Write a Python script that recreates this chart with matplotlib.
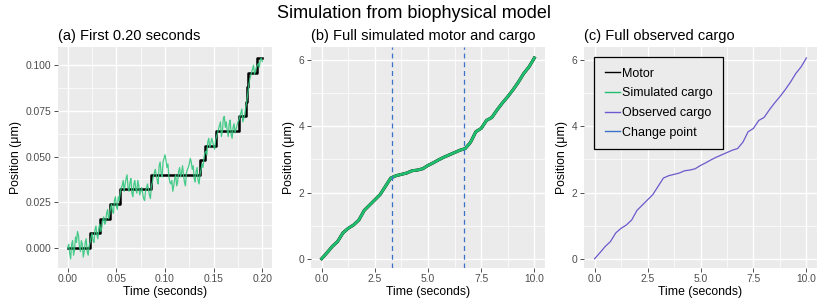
import matplotlib
matplotlib.use("Agg")
import matplotlib.pyplot as plt
import numpy as np
from matplotlib.ticker import FormatStrFormatter, MultipleLocator
from matplotlib.lines import Line2D

plt.rcParams['font.family'] = ['Liberation Sans', 'DejaVu Sans']

# panel (a): motor steps (time where each step starts, level after it)
motor_t = [0.0, 0.0226, 0.0336, 0.0431, 0.0534, 0.0853, 0.1363, 0.1407,
           0.1527, 0.1757, 0.1835, 0.1845, 0.1855, 0.1948, 0.2]
motor_y = [0.000, 0.008, 0.016, 0.024, 0.032, 0.040, 0.048, 0.056,
           0.064, 0.072, 0.080, 0.088, 0.096, 0.104, 0.104]

# panel (a): simulated cargo, every 0.001 s
cargo_a_t = [i * 0.001 for i in range(201)]
cargo_a_y = [
    0.000, 0.002, -0.003, -0.006, 0.002, 0.004, -0.004, -0.001, 0.006, 0.003,
    0.009, 0.007, 0.001, -0.002, 0.004, 0.002, -0.005, -0.002, 0.003, 0.005,
    -0.002, -0.004, 0.001, 0.003, 0.006, 0.008, 0.004, 0.003, 0.010, 0.012,
    0.007, 0.005, 0.011, 0.013, 0.009, 0.011, 0.015, 0.017, 0.013, 0.014,
    0.019, 0.021, 0.016, 0.018, 0.022, 0.024, 0.020, 0.019, 0.026, 0.028,
    0.023, 0.021, 0.028, 0.026, 0.030, 0.033, 0.034, 0.037, 0.031, 0.035,
    0.038, 0.040, 0.033, 0.031, 0.036, 0.038, 0.030, 0.028, 0.035, 0.037,
    0.032, 0.030, 0.037, 0.034, 0.029, 0.031, 0.033, 0.030, 0.027, 0.026,
    0.031, 0.033, 0.035, 0.032, 0.029, 0.027, 0.034, 0.036, 0.039, 0.041,
    0.043, 0.040, 0.037, 0.035, 0.045, 0.047, 0.041, 0.039, 0.047, 0.049,
    0.051, 0.048, 0.044, 0.046, 0.039, 0.036, 0.035, 0.037, 0.031, 0.034,
    0.038, 0.040, 0.034, 0.036, 0.042, 0.044, 0.039, 0.041, 0.045, 0.040,
    0.036, 0.034, 0.041, 0.043, 0.044, 0.046, 0.049, 0.047, 0.043, 0.045,
    0.038, 0.036, 0.042, 0.044, 0.037, 0.035, 0.040, 0.043, 0.046, 0.044,
    0.049, 0.052, 0.053, 0.051, 0.058, 0.060, 0.055, 0.057, 0.060, 0.058,
    0.056, 0.054, 0.059, 0.061, 0.063, 0.065, 0.067, 0.069, 0.061, 0.064,
    0.071, 0.072, 0.066, 0.069, 0.064, 0.061, 0.068, 0.070, 0.062, 0.060,
    0.066, 0.068, 0.063, 0.065, 0.067, 0.069, 0.070, 0.072, 0.074, 0.076,
    0.069, 0.071, 0.073, 0.077, 0.080, 0.084, 0.089, 0.092, 0.094, 0.096,
    0.098, 0.100, 0.095, 0.097, 0.099, 0.100, 0.101, 0.099, 0.103, 0.104,
    0.102]

# panels (b) and (c): full 10 s run, every 0.25 s
full_t = [i * 0.25 for i in range(41)]
full_y = [0.00, 0.18, 0.37, 0.52, 0.78, 0.92, 1.02, 1.17, 1.46, 1.62,
          1.78, 1.94, 2.19, 2.44, 2.51, 2.55, 2.59, 2.66, 2.68, 2.72,
          2.82, 2.90, 2.99, 3.07, 3.14, 3.21, 3.28, 3.33, 3.52, 3.84,
          3.94, 4.18, 4.27, 4.50, 4.71, 4.90, 5.11, 5.34, 5.60, 5.80, 6.07]
change_points = [3.33, 6.67]

c_motor = "black"
c_sim = "#1FBF6E"
c_obs = "#6A5ACD"
c_cp = "#3A72C8"


def gg_style(ax, xmaj, ymaj):
    ax.set_facecolor("#EBEBEB")
    for s in ax.spines.values():
        s.set_visible(False)
    ax.xaxis.set_major_locator(MultipleLocator(xmaj))
    ax.yaxis.set_major_locator(MultipleLocator(ymaj))
    ax.xaxis.set_minor_locator(MultipleLocator(xmaj / 2))
    ax.yaxis.set_minor_locator(MultipleLocator(ymaj / 2))
    ax.grid(which="major", color="white", lw=1.0)
    ax.grid(which="minor", color="white", lw=0.5)
    ax.set_axisbelow(True)
    ax.tick_params(which="major", length=3, width=0.6, color="#333333",
                   labelsize=7.4, labelcolor="#4D4D4D", pad=1.5)
    ax.tick_params(which="minor", length=0)
    ax.set_xlabel("Time (seconds)", fontsize=8.8, labelpad=1)
    ax.set_ylabel("Position (μm)", fontsize=8.8, labelpad=3)


fig = plt.figure(figsize=(8.29, 3.07), dpi=100)
ax1 = fig.add_axes([58 / 829, 39 / 307, 214 / 829, 221 / 307])
ax2 = fig.add_axes([311 / 829, 39 / 307, 234 / 829, 221 / 307])
ax3 = fig.add_axes([584 / 829, 39 / 307, 233 / 829, 221 / 307])

# (a)
ax1.plot(motor_t, motor_y, color=c_motor, lw=1.8, drawstyle="steps-post")
ax1.plot(cargo_a_t, cargo_a_y, color="#33C77E", lw=0.9, alpha=0.9)
gg_style(ax1, 0.05, 0.025)
ax1.set_xlim(-0.01, 0.21)
ax1.set_ylim(-0.011, 0.110)
ax1.xaxis.set_major_formatter(FormatStrFormatter("%.2f"))
ax1.yaxis.set_major_formatter(FormatStrFormatter("%.3f"))
ax1.set_title("(a) First 0.20 seconds", loc="left", fontsize=10.5, pad=5)

# (b)
ax2.plot(full_t, full_y, color=c_motor, lw=2.2)
ax2.plot(full_t, full_y, color=c_sim, lw=2.0)
for cp in change_points:
    ax2.axvline(cp, color=c_cp, lw=0.9, ls=(0, (4, 3)))
gg_style(ax2, 2.5, 2)
ax2.set_xlim(-0.5, 10.5)
ax2.set_ylim(-0.28, 6.4)
ax2.xaxis.set_major_formatter(FormatStrFormatter("%.1f"))
ax2.yaxis.set_major_formatter(FormatStrFormatter("%d"))
ax2.set_title("(b) Full simulated motor and cargo", loc="left", fontsize=10.5, pad=5)

# (c)
ax3.plot(full_t, full_y, color=c_obs, lw=0.9)
gg_style(ax3, 2.5, 2)
ax3.set_xlim(-0.5, 10.5)
ax3.set_ylim(-0.28, 6.4)
ax3.xaxis.set_major_formatter(FormatStrFormatter("%.1f"))
ax3.yaxis.set_major_formatter(FormatStrFormatter("%d"))
ax3.set_title("(c) Full observed cargo", loc="left", fontsize=10.5, pad=5)

handles = [Line2D([], [], color=c_motor, lw=1),
           Line2D([], [], color=c_sim, lw=1),
           Line2D([], [], color=c_obs, lw=1),
           Line2D([], [], color=c_cp, lw=1)]
labels = ["Motor", "Simulated cargo", "Observed cargo", "Change point"]
leg = ax3.legend(handles, labels, loc="upper left", bbox_to_anchor=(0.043, 0.955),
                 borderaxespad=0, fontsize=9, frameon=True, fancybox=False,
                 facecolor="#EBEBEB", edgecolor="black", framealpha=1,
                 handlelength=1.2, handletextpad=0.2, labelspacing=0.62,
                 borderpad=0.85)
leg.get_frame().set_linewidth(0.9)

fig.suptitle("Simulation from biophysical model", fontsize=13, y=0.985)

fig.savefig("out.png", dpi=100)
